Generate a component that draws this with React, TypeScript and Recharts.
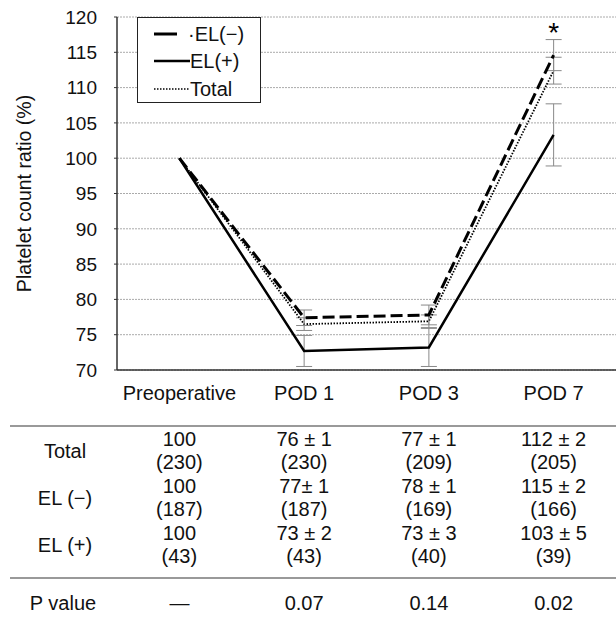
import React from "react"
import {
  LineChart,
  Line,
  XAxis,
  YAxis,
  CartesianGrid,
  ErrorBar,
  ReferenceDot,
} from "recharts"

const categories = ["Preoperative", "POD 1", "POD 3", "POD 7"]
const elMinus = [100, 77.4, 77.8, 114.6]
const elMinusErr = [null, 1.1, 1.4, 2.2]
const elPlus = [100, 72.7, 73.2, 103.3]
const elPlusErr = [null, 2.2, 2.7, 4.4]
const total = [100, 76.5, 76.9, 112.4]
const totalErr = [null, 0.9, 0.9, 1.9]
const yTicks = [70, 75, 80, 85, 90, 95, 100, 105, 110, 115, 120]

const rowLabels = ["Total", "EL (\u2212)", "EL (+)"]
const totalCells = ["100", "76 \u00b1 1", "77 \u00b1 1", "112 \u00b1 2"]
const totalN = ["(230)", "(230)", "(209)", "(205)"]
const elMinusCells = ["100", "77\u00b1 1", "78 \u00b1 1", "115 \u00b1 2"]
const elMinusN = ["(187)", "(187)", "(169)", "(166)"]
const elPlusCells = ["100", "73 \u00b1 2", "73 \u00b1 3", "103 \u00b1 5"]
const elPlusN = ["(43)", "(43)", "(40)", "(39)"]
const pValues = ["\u2014", "0.07", "0.14", "0.02"]

const data = categories.map((c, i) => ({
  name: c,
  elMinus: elMinus[i],
  elMinusErr: elMinusErr[i],
  elPlus: elPlus[i],
  elPlusErr: elPlusErr[i],
  total: total[i],
  totalErr: totalErr[i],
}))

const FONT = "'Liberation Sans', Arial, sans-serif"
const W = 616
const H = 619
const PLOT_LEFT = 117
const BAND = (W - PLOT_LEFT) / categories.length

const legendItems = [
  { label: "\u00b7EL(\u2212)", dash: "23 30", width: 3 },
  { label: "EL(+)", dash: undefined, width: 2.5 },
  { label: "Total", dash: "1.5 1.5", width: 1.5 },
]

function ChartLegend() {
  return (
    <div
      style={{
        position: "absolute",
        left: 137,
        top: 17,
        border: "1px solid #222",
        background: "#fff",
        width: 124,
        height: 86,
        boxSizing: "border-box",
        padding: "2px 0 0 16px",
        fontFamily: FONT,
        fontSize: 20,
        color: "#111",
      }}
    >
      {legendItems.map((it) => (
        <div key={it.label} style={{ display: "flex", alignItems: "center", height: 27.5 }}>
          <svg width={36} height={10} style={{ flexShrink: 0 }}>
            <line
              x1={0}
              y1={5}
              x2={36}
              y2={5}
              stroke="#000"
              strokeWidth={it.width}
              strokeDasharray={it.dash}
            />
          </svg>
          <span style={{ lineHeight: "20px", marginLeft: it.label.startsWith("\u00b7") ? -2 : 0 }}>
            {it.label}
          </span>
        </div>
      ))}
    </div>
  )
}

function Table() {
  const colX = (i: number) => PLOT_LEFT + BAND * (i + 0.5)
  const rows = [
    { label: rowLabels[0], top: totalCells, bottom: totalN, y: 439 },
    { label: rowLabels[1], top: elMinusCells, bottom: elMinusN, y: 486 },
    { label: rowLabels[2], top: elPlusCells, bottom: elPlusN, y: 533 },
  ]
  return (
    <svg
      width={W}
      height={H}
      style={{ position: "absolute", left: 0, top: 0, pointerEvents: "none" }}
      fontFamily={FONT}
      fontSize={20}
      fill="#111"
    >
      <line x1={10} y1={426} x2={W} y2={426} stroke="#777" strokeWidth={1.5} />
      <line x1={10} y1={578} x2={W} y2={578} stroke="#777" strokeWidth={1.5} />
      {rows.map((r) => (
        <g key={r.label}>
          <text x={65} y={r.y + 12} textAnchor="middle" dominantBaseline="central">
            {r.label}
          </text>
          {r.top.map((t, i) => (
            <text key={"t" + i} x={colX(i)} y={r.y} textAnchor="middle" dominantBaseline="central">
              {t}
            </text>
          ))}
          {r.bottom.map((t, i) => (
            <text key={"b" + i} x={colX(i)} y={r.y + 23} textAnchor="middle" dominantBaseline="central">
              {t}
            </text>
          ))}
        </g>
      ))}
      <text x={63} y={603} textAnchor="middle" dominantBaseline="central">
        P value
      </text>
      {pValues.map((p, i) => (
        <text key={"p" + i} x={colX(i)} y={603} textAnchor="middle" dominantBaseline="central">
          {p}
        </text>
      ))}
    </svg>
  )
}

export default function App() {
  return (
    <div style={{ position: "fixed", left: 0, top: 0, width: W, height: H, background: "#fff" }}>
      <LineChart
        width={W}
        height={H}
        data={data}
        margin={{ top: 17, right: 0, left: 0, bottom: 219 }}
        style={{ fontFamily: FONT }}
      >
        <CartesianGrid vertical={false} stroke="#aaa" strokeDasharray="2 1" />
        <XAxis
          dataKey="name"
          height={30}
          padding={{ left: BAND / 2, right: BAND / 2 }}
          axisLine={{ stroke: "#333", strokeWidth: 1.5 }}
          tickLine={false}
          tick={{ fill: "#111", fontSize: 20 }}
          tickMargin={10}
        />
        <YAxis
          width={PLOT_LEFT}
          domain={[70, 120]}
          ticks={yTicks}
          interval={0}
          axisLine={{ stroke: "#333", strokeWidth: 1.5 }}
          tickLine={{ stroke: "#333" }}
          tickSize={3}
          tickMargin={17}
          tick={{ fill: "#111", fontSize: 19 }}
          label={{
            value: "Platelet count ratio (%)",
            angle: -90,
            position: "insideLeft",
            offset: 24,
            style: { textAnchor: "middle", fill: "#111", fontSize: 19.5 },
          }}
        />
        <Line
          type="linear"
          dataKey="elPlus"
          name="EL(+)"
          stroke="#000"
          strokeWidth={2.5}
          dot={false}
          isAnimationActive={false}
        >
          <ErrorBar dataKey="elPlusErr" width={8} stroke="#888" strokeWidth={1} direction="y" />
        </Line>
        <Line
          type="linear"
          dataKey="total"
          name="Total"
          stroke="#000"
          strokeWidth={1.8}
          strokeDasharray="1.5 1.5"
          dot={false}
          isAnimationActive={false}
        >
          <ErrorBar dataKey="totalErr" width={8} stroke="#888" strokeWidth={1} direction="y" />
        </Line>
        <Line
          type="linear"
          dataKey="elMinus"
          name="EL(-)"
          stroke="#000"
          strokeWidth={3}
          strokeDasharray="12 5"
          dot={false}
          isAnimationActive={false}
        >
          <ErrorBar dataKey="elMinusErr" width={8} stroke="#888" strokeWidth={1} direction="y" />
        </Line>
        <ReferenceDot
          x="POD 7"
          y={117.8}
          r={0}
          fill="none"
          stroke="none"
          label={{ value: "*", position: "center", fill: "#000", fontSize: 28 }}
        />
      </LineChart>
      <ChartLegend />
      <Table />
    </div>
  )
}
